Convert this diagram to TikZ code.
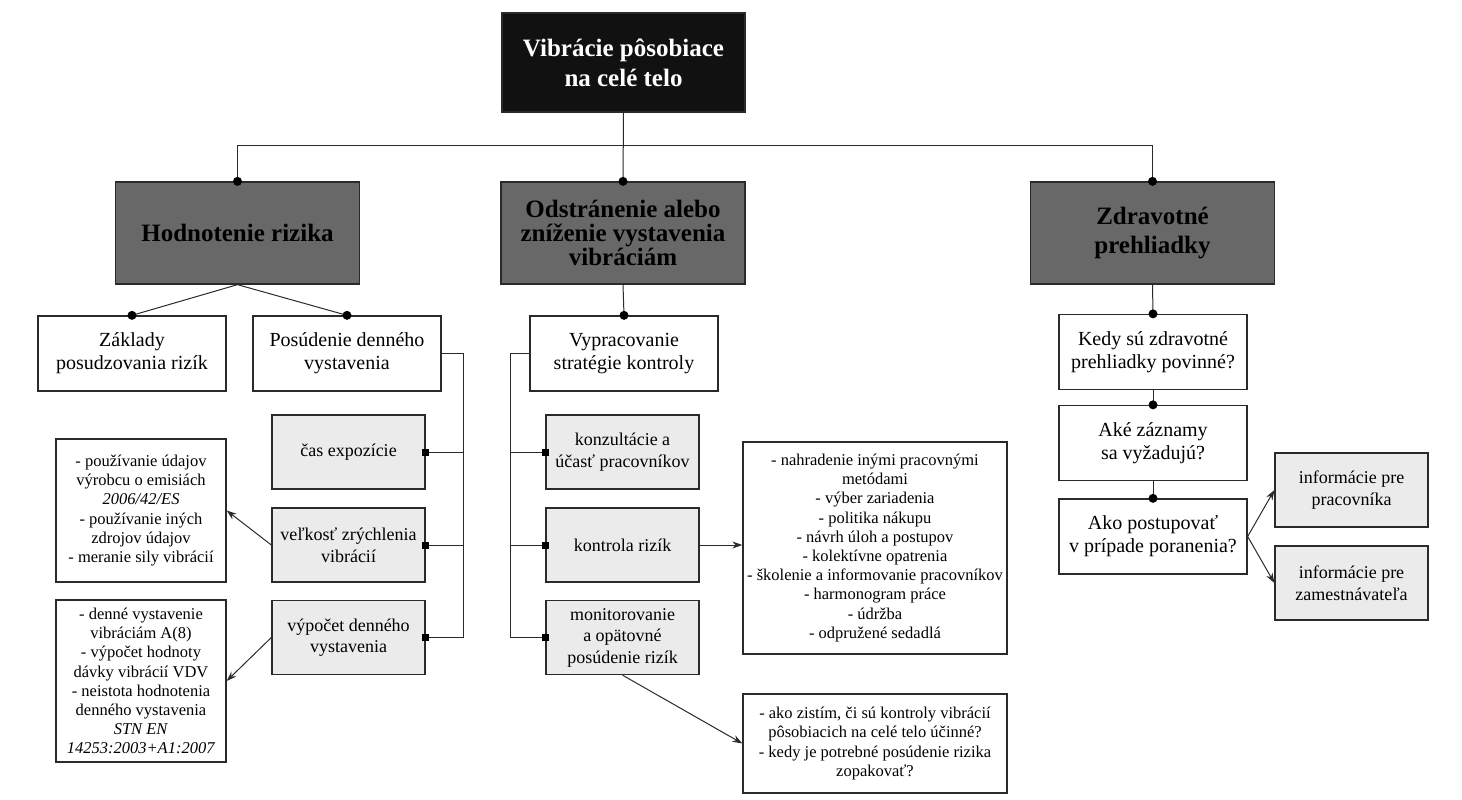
\documentclass[tikz,border=0pt]{standalone}
\usepackage{fontspec}
\setmainfont{Liberation Serif}
\usetikzlibrary{arrows.meta}
\definecolor{lc}{HTML}{2A2A2A}
\definecolor{dk}{HTML}{686868}
\definecolor{lg}{HTML}{EBEBEB}
\definecolor{topc}{HTML}{111111}
\tikzset{
  box/.style={draw=lc, line width=1.3pt, rectangle, inner sep=2pt, align=center, text=black},
  topbox/.style={box, fill=topc, text=white, font=\bfseries\fontsize{25}{30}\selectfont, minimum width=243pt, minimum height=99pt},
  mainbox/.style={box, fill=dk, font=\bfseries\fontsize{25}{24}\selectfont, minimum width=244pt, minimum height=102pt},
  subbox/.style={box, fill=white, font=\fontsize{20}{23}\selectfont, minimum width=188pt, minimum height=75pt},
  graybox/.style={box, fill=lg, font=\fontsize{18}{21.5}\selectfont, minimum width=153pt, minimum height=74pt},
  listbox/.style={box, fill=white, font=\fontsize{16.5}{19.2}\selectfont},
  conn/.style={draw=lc, line width=1pt},
  arr/.style={conn, -{Stealth[length=10pt,width=7pt]}},
  dotm/.style={fill=black, circle, inner sep=0pt, minimum size=9pt},
  sqm/.style={fill=black, rectangle, inner sep=0pt, minimum size=7pt}
}
\begin{document}
\begin{tikzpicture}[x=1pt,y=-1pt]
\useasboundingbox (0,0) rectangle (1462,800);
% nodes
\node[topbox] (top) at (623.5,62.5) {Vibrácie pôsobiace\\na celé telo};
\node[mainbox] (hod) at (237.5,233) {Hodnotenie rizika};
\node[mainbox, text depth=-6pt] (ods) at (623,233) {Odstránenie alebo\\zníženie vystavenia\\vibráciám};
\node[mainbox, font=\bfseries\fontsize{25}{29}\selectfont] (zdr) at (1152.5,233) {Zdravotné\\prehliadky};
\node[subbox] (zak) at (132,353.5) {Základy\\posudzovania rizík};
\node[subbox] (pos) at (347,353.5) {Posúdenie denného\\vystavenia};
\node[subbox] (vyp) at (624,353.5) {Vypracovanie\\stratégie kontroly};
\node[graybox] (cas) at (348.5,452) {čas expozície};
\node[graybox] (vel) at (348.5,545) {veľkosť zrýchlenia\\vibrácií};
\node[graybox] (vyc) at (348.5,637.5) {výpočet denného\\vystavenia};
\node[listbox, minimum width=170pt, minimum height=143pt] (lA) at (141,510.5)
  {- používanie údajov\\výrobcu o emisiách\\\textit{2006/42/ES}\\- používanie iných\\zdrojov údajov\\- meranie sily vibrácií};
\node[listbox, minimum width=170pt, minimum height=162pt] (lB) at (141,681)
  {- denné vystavenie\\vibráciám A(8)\\- výpočet hodnoty\\dávky vibrácií VDV\\- neistota hodnotenia\\denného vystavenia\\\textit{STN EN}\\\textit{14253:2003+A1:2007}};
\node[graybox] (kon) at (622.5,452) {konzultácie a\\účasť pracovníkov};
\node[graybox] (kri) at (622.5,545) {kontrola rizík};
\node[graybox] (mon) at (622.5,637.5) {monitorovanie\\a opätovné\\posúdenie rizík};
\node[listbox, minimum width=264pt, minimum height=212pt] (lC) at (875,548)
  {- nahradenie inými pracovnými\\metódami\\- výber zariadenia\\- politika nákupu\\- návrh úloh a postupov\\- kolektívne opatrenia\\- školenie a informovanie pracovníkov\\- harmonogram práce\\- údržba\\- odpružené sedadlá};
\node[listbox, minimum width=264pt, minimum height=99pt] (lD) at (875,743.5)
  {- ako zistím, či sú kontroly vibrácií\\pôsobiacich na celé telo účinné?\\- kedy je potrebné posúdenie rizika\\zopakovať?};
\node[subbox] (ked) at (1153,352) {Kedy sú zdravotné\\prehliadky povinné?};
\node[subbox] (ake) at (1153,443) {Aké záznamy\\sa vyžadujú?};
\node[subbox] (ako) at (1153,536.5) {Ako postupovať\\v prípade poranenia?};
\node[graybox] (ip) at (1351.5,490) {informácie pre\\pracovníka};
\node[graybox] (iz) at (1351.5,583) {informácie pre\\zamestnávateľa};
\coordinate (pb) at (463,0);
\coordinate (vb) at (510,0);
% top-level connectors
\draw[conn] (top.south) -- (ods.north);
\draw[conn] (hod.north) -- ++(0,-36) -| (zdr.north);
\node[dotm] at (hod.north) {};
\node[dotm] at (ods.north) {};
\node[dotm] at (zdr.north) {};
% left branch
\draw[conn] (hod.south) -- (zak.north);
\draw[conn] (hod.south) -- (pos.north);
\node[dotm] at (zak.north) {};
\node[dotm] at (pos.north) {};
\draw[conn] (pos.east) -- (pos.east -| pb) |- (vyc.east);
\draw[conn] (cas.east) -- (cas.east -| pb);
\draw[conn] (vel.east) -- (vel.east -| pb);
\node[sqm] at (cas.east) {};
\node[sqm] at (vel.east) {};
\node[sqm] at (vyc.east) {};
\draw[arr] (vel.west) -- (lA.east);
\draw[arr] (vyc.west) -- (lB.east);
% middle branch
\draw[conn] (ods.south) -- (vyp.north);
\node[dotm] at (vyp.north) {};
\draw[conn] (vyp.west) -- (vyp.west -| vb) |- (mon.west);
\draw[conn] (kon.west) -- (kon.west -| vb);
\draw[conn] (kri.west) -- (kri.west -| vb);
\node[sqm] at (kon.west) {};
\node[sqm] at (kri.west) {};
\node[sqm] at (mon.west) {};
\draw[arr] (kri.east) -- (kri.east -| lC.west);
\draw[arr] (mon.south) -- (lD.west);
% right branch
\draw[conn] (zdr.south) -- (ked.north);
\draw[conn] (ked.south) -- (ake.north);
\draw[conn] (ake.south) -- (ako.north);
\node[dotm] at (ked.north) {};
\node[dotm] at (ake.north) {};
\node[dotm] at (ako.north) {};
\draw[arr] (ako.east) -- (ip.west);
\draw[arr] (ako.east) -- (iz.west);
\end{tikzpicture}
\end{document}
